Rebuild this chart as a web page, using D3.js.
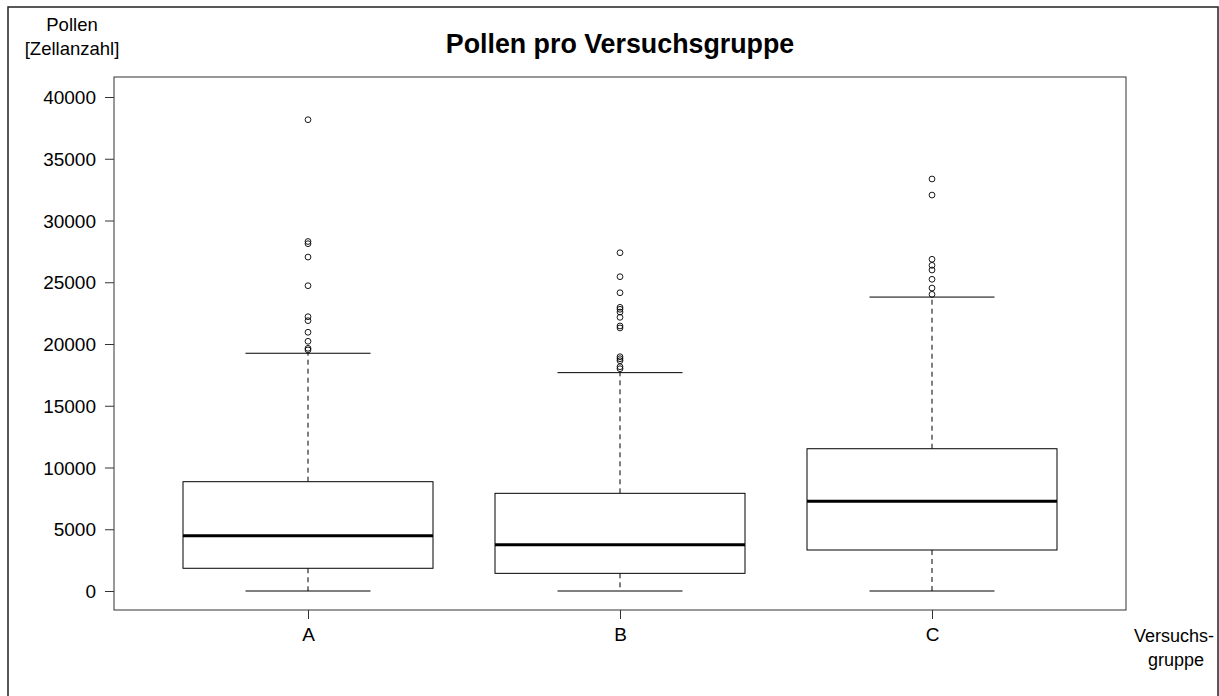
<!DOCTYPE html>
<html>
<head>
<meta charset="utf-8">
<script src="https://cdn.jsdelivr.net/npm/d3@7"></script>
<style>
  body { margin: 0; background: #fff; }
  text { font-family: "Liberation Sans", Arial, sans-serif; fill: #000; }
</style>
</head>
<body>
<div id="chart"></div>
<script>
// boxplot summary values
var groups = ["A", "B", "C"];
var lowWhisker = [0, 0, 0];
var q1 = [1840, 1430, 3320];
var median = [4480, 3750, 7260];
var q3 = [8850, 7910, 11520];
var highWhisker = [19250, 17680, 23800];

var outliersA = [38160, 28300, 28120, 27040, 24720, 22210, 21890, 20950, 20220, 19650, 19520];
var outliersB = [27390, 25450, 24150, 22970, 22810, 22590, 22160, 21460, 21300, 18970, 18810, 18650, 18160, 18000];
var outliersC = [33360, 32060, 26860, 26370, 25990, 25240, 24530, 24020];
var outliers = [outliersA, outliersB, outliersC];

var yTicks = [0, 5000, 10000, 15000, 20000, 25000, 30000, 35000, 40000];

var width = 1219, height = 696;
var plot = { left: 114, top: 77, right: 1126, bottom: 610 };

var svg = d3.select("#chart").append("svg")
    .attr("width", width)
    .attr("height", height);

// outer frame
svg.append("rect")
    .attr("x", 8).attr("y", 7)
    .attr("width", 1210).attr("height", 720)
    .attr("fill", "none")
    .attr("stroke", "#222")
    .attr("stroke-width", 1.5);

var y = d3.scaleLinear()
    .domain([0, 40000])
    .range([591, 97]);

var x = d3.scalePoint()
    .domain(groups)
    .range([308, 932]);

var boxW = 250, capW = 125;

// plot box
svg.append("rect")
    .attr("x", plot.left).attr("y", plot.top)
    .attr("width", plot.right - plot.left)
    .attr("height", plot.bottom - plot.top)
    .attr("fill", "none")
    .attr("stroke", "#333")
    .attr("stroke-width", 1);

// y axis
var yAxis = svg.append("g")
    .attr("transform", "translate(" + plot.left + ",0)")
    .call(d3.axisLeft(y).tickValues(yTicks).tickSize(9).tickPadding(9).tickFormat(d3.format("d")));
yAxis.select(".domain").remove();
yAxis.selectAll("line").attr("stroke", "#333");
yAxis.selectAll("text").style("font-size", "19px").attr("dy", "0.35em");

// x axis
var xAxis = svg.append("g")
    .attr("transform", "translate(0," + plot.bottom + ")")
    .call(d3.axisBottom(x).tickSize(9).tickPadding(9));
xAxis.select(".domain").remove();
xAxis.selectAll("line").attr("stroke", "#333");
xAxis.selectAll("text").style("font-size", "19px");

var idx = d3.range(groups.length);
var g = svg.append("g");

// whiskers (dashed)
g.selectAll(".wh-up").data(idx).enter().append("line")
    .attr("x1", i => x(groups[i])).attr("x2", i => x(groups[i]))
    .attr("y1", i => y(q3[i])).attr("y2", i => y(highWhisker[i]))
    .attr("stroke", "#000").attr("stroke-dasharray", "5,4");
g.selectAll(".wh-lo").data(idx).enter().append("line")
    .attr("x1", i => x(groups[i])).attr("x2", i => x(groups[i]))
    .attr("y1", i => y(q1[i])).attr("y2", i => y(lowWhisker[i]))
    .attr("stroke", "#000").attr("stroke-dasharray", "5,4");

// caps
g.selectAll(".cap-up").data(idx).enter().append("line")
    .attr("x1", i => x(groups[i]) - capW / 2).attr("x2", i => x(groups[i]) + capW / 2)
    .attr("y1", i => y(highWhisker[i])).attr("y2", i => y(highWhisker[i]))
    .attr("stroke", "#000");
g.selectAll(".cap-lo").data(idx).enter().append("line")
    .attr("x1", i => x(groups[i]) - capW / 2).attr("x2", i => x(groups[i]) + capW / 2)
    .attr("y1", i => y(lowWhisker[i])).attr("y2", i => y(lowWhisker[i]))
    .attr("stroke", "#000");

// boxes
g.selectAll(".box").data(idx).enter().append("rect")
    .attr("x", i => x(groups[i]) - boxW / 2)
    .attr("y", i => y(q3[i]))
    .attr("width", boxW)
    .attr("height", i => y(q1[i]) - y(q3[i]))
    .attr("fill", "#fff")
    .attr("stroke", "#000")
    .attr("stroke-width", 1);

// medians
g.selectAll(".med").data(idx).enter().append("line")
    .attr("x1", i => x(groups[i]) - boxW / 2).attr("x2", i => x(groups[i]) + boxW / 2)
    .attr("y1", i => y(median[i])).attr("y2", i => y(median[i]))
    .attr("stroke", "#000").attr("stroke-width", 3);

// outliers
idx.forEach(function (i) {
    g.selectAll(".out" + i).data(outliers[i]).enter().append("circle")
        .attr("cx", x(groups[i]))
        .attr("cy", d => y(d))
        .attr("r", 2.9)
        .attr("fill", "none")
        .attr("stroke", "#000")
        .attr("stroke-width", 0.9);
});

// title and axis labels
svg.append("text")
    .attr("x", (plot.left + plot.right) / 2).attr("y", 53)
    .attr("text-anchor", "middle")
    .style("font-size", "26.8px").style("font-weight", "bold")
    .text("Pollen pro Versuchsgruppe");

svg.append("text")
    .attr("x", 72).attr("y", 31)
    .attr("text-anchor", "middle")
    .style("font-size", "18.5px")
    .text("Pollen");
svg.append("text")
    .attr("x", 72).attr("y", 55)
    .attr("text-anchor", "middle")
    .style("font-size", "18.5px")
    .text("[Zellanzahl]");

svg.append("text")
    .attr("x", 1174).attr("y", 642)
    .attr("text-anchor", "middle")
    .style("font-size", "18px")
    .text("Versuchs-");
svg.append("text")
    .attr("x", 1176).attr("y", 666)
    .attr("text-anchor", "middle")
    .style("font-size", "18px")
    .text("gruppe");
</script>
</body>
</html>
